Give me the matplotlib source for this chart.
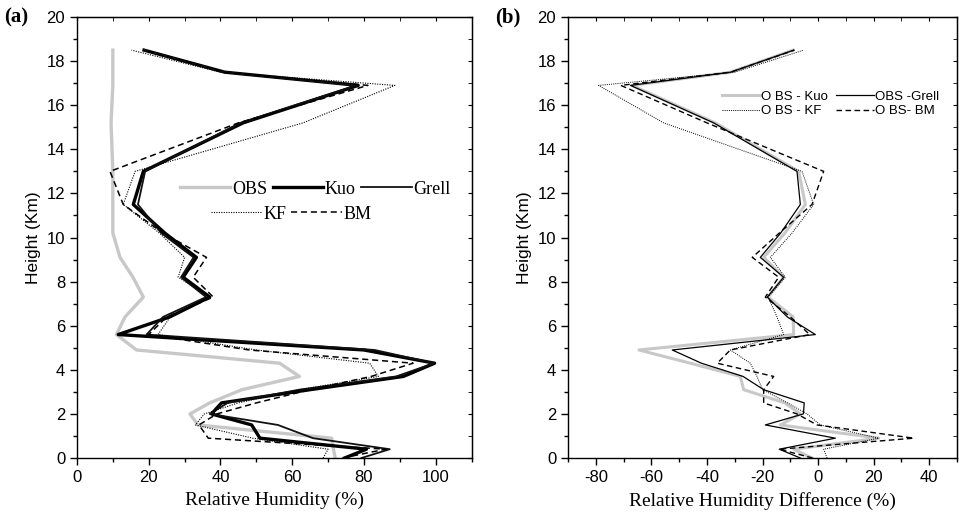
import matplotlib
matplotlib.use("Agg")
import matplotlib.pyplot as plt
from matplotlib.ticker import MultipleLocator

plt.rcParams["axes.unicode_minus"] = False

# heights of the profile levels (km)
heights = [0.0, 0.4, 0.9, 1.5, 2.0, 2.5, 3.1, 3.7, 4.3, 4.9, 5.6, 6.4, 7.3,
           8.2, 9.1, 10.2, 11.5, 13.0, 15.2, 16.9, 17.5, 18.5]

# panel (a): relative humidity (%)
rh_obs = [72, 71.5, 71, 33.7, 31.5, 37, 46, 62, 56.5, 16.6, 11, 13.4, 18.5,
          15.6, 12, 10, 10, 10, 9.5, 10, 10, 10]
rh_kuo = [74.6, 80.7, 51, 48.7, 37.5, 40.3, 65, 91, 99.7, 80, 11.5, 25.9, 37,
          29.6, 33.3, 24.5, 15.7, 18.5, 46.3, 78.4, 41.2, 18.7]
rh_grell = [79.3, 87.2, 65.8, 56, 37, 42, 62, 89, 99.5, 83, 19.4, 24, 36,
            29, 32.5, 23.5, 17, 19, 45.5, 78, 41, 18.7]
rh_kf = [68.6, 70, 49, 33, 35.5, 45, 62, 84, 81.6, 50, 22.6, 26, 37,
         28.2, 30, 23, 12.9, 16.2, 63, 88.6, 40, 15.2]
rh_bm = [74, 86, 36.6, 34, 39, 50, 65, 82, 93.7, 48, 20, 25, 38,
         32.4, 36.1, 24, 12.9, 9.2, 45, 81.1, 41, 18.7]

# panel (b): OBS minus model (%)
d_kuo = [-2.2, -8.8, 21.8, -13.6, -6.4, -12, -26.8, -28, -46, -64.5, -8.8, -9, -18,
         -12.4, -19.6, -12, -4.6, -7, -37, -67, -31.5, -9]
d_grell = [-6.4, -14, 6.2, -19, -5.3, -5, -19.6, -27, -42, -52.5, -1, -11.1, -18.3,
           -12.4, -20.8, -13.5, -6.4, -7.6, -37.6, -67.5, -31.5, -8.8]
d_kf = [3.2, 2, 21.8, 0.8, -4, -11, -20, -22, -24.4, -31.6, -12.4, -14.8, -18,
        -11.8, -17.2, -9.4, -1.6, -5.8, -55.6, -79, -30, -5.2]
d_bm = [-2, -14, 34.4, -0.4, -7.6, -19.6, -19.6, -16, -36.3, -31.6, -3, -10, -19,
        -14.2, -23.7, -14, -2.2, 2, -40, -71, -31.5, -8.5]

GRAY = "#c8c8c8"
SANS = "Liberation Sans"
SERIF = "Liberation Serif"

fig = plt.figure(figsize=(9.61, 5.2), dpi=100)
ax_a = fig.add_axes([0.0801, 0.1192, 0.4106, 0.848])
ax_b = fig.add_axes([0.5911, 0.1192, 0.4048, 0.848])


def style_axis(ax, xlim, xmajor):
    ax.set_ylim(0, 20)
    ax.set_xlim(*xlim)
    ax.yaxis.set_major_locator(MultipleLocator(2))
    ax.yaxis.set_minor_locator(MultipleLocator(1))
    ax.xaxis.set_major_locator(MultipleLocator(xmajor))
    ax.xaxis.set_minor_locator(MultipleLocator(10))
    ax.tick_params(which="major", direction="out", length=5, width=1, labelsize=12)
    ax.tick_params(which="minor", direction="out", length=3, width=1)
    for lab in ax.get_xticklabels() + ax.get_yticklabels():
        lab.set_fontfamily(SANS)
    for s in ax.spines.values():
        s.set_linewidth(1.0)
    top = ax.secondary_xaxis("top")
    top.xaxis.set_major_locator(MultipleLocator(xmajor))
    top.xaxis.set_minor_locator(MultipleLocator(10))
    top.tick_params(which="both", direction="in", length=3, labeltop=False)
    right = ax.secondary_yaxis("right")
    right.yaxis.set_major_locator(MultipleLocator(2))
    right.yaxis.set_minor_locator(MultipleLocator(1))
    right.tick_params(which="both", direction="in", length=3, labelright=False)
    ax.set_ylabel("Height (Km)", fontfamily=SANS, fontsize=12.5, labelpad=4)


# ---- panel (a)
ax_a.plot(rh_obs, heights, color=GRAY, lw=2.4, label="OBS")
ax_a.plot(rh_kuo, heights, color="black", lw=2.4, label="Kuo")
ax_a.plot(rh_grell, heights, color="#111111", lw=1.3, label="Grell")
ax_a.plot(rh_kf, heights, color="black", lw=0.8, ls=(0, (1, 1.2)), label="KF")
ax_a.plot(rh_bm, heights, color="black", lw=1.1, ls=(0, (4, 2.5)), label="BM")
style_axis(ax_a, (0, 110), 20)
ax_a.set_xlabel("Relative Humidity (%)", fontfamily=SERIF, fontsize=14, labelpad=5)

h, l = ax_a.get_legend_handles_labels()
leg1 = ax_a.legend(h[:3], l[:3], ncol=3, frameon=False, loc="center",
                   bbox_to_anchor=(0.604, 0.61), prop={"family": SERIF, "size": 13},
                   handlelength=2.8, handletextpad=0.1, columnspacing=0.3)
ax_a.add_artist(leg1)
ax_a.legend(h[3:], l[3:], ncol=2, frameon=False, loc="center",
            bbox_to_anchor=(0.543, 0.553), prop={"family": SERIF, "size": 13},
            handlelength=2.8, handletextpad=0.1, columnspacing=0.3)

# ---- panel (b)
ax_b.plot(d_kuo, heights, color=GRAY, lw=2.2, label="O BS - Kuo")
ax_b.plot(d_kf, heights, color="black", lw=0.7, ls=(0, (1, 1.2)), label="O BS - KF")
ax_b.plot(d_grell, heights, color="black", lw=0.9, label="OBS -Grell")
ax_b.plot(d_bm, heights, color="black", lw=1.0, ls=(0, (4, 2.5)), label="O BS- BM")
style_axis(ax_b, (-90, 50), 20)
ax_b.set_xlabel("Relative Humidity Difference (%)", fontfamily=SERIF, fontsize=14, labelpad=5)
ax_b.legend(ncol=2, frameon=False, loc="center left", bbox_to_anchor=(0.396, 0.803),
            borderpad=0, borderaxespad=0,
            prop={"family": SANS, "size": 9.5}, handlelength=2.9,
            handletextpad=0.05, columnspacing=0.6, labelspacing=0.2)

fig.text(0.004, 0.967, "(a)", fontfamily=SERIF, fontweight="bold", fontsize=15, va="center")
fig.text(0.515, 0.967, "(b)", fontfamily=SERIF, fontweight="bold", fontsize=15, va="center")

fig.savefig("out.png", dpi=100)
